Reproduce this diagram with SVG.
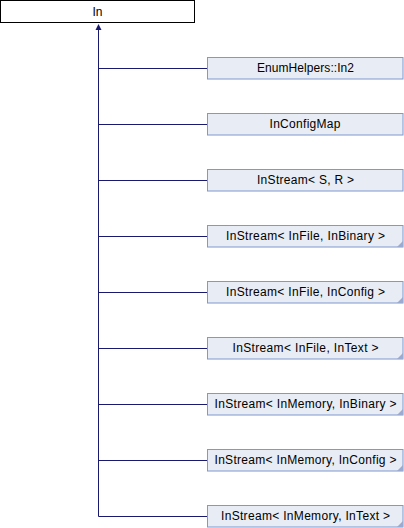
<svg xmlns="http://www.w3.org/2000/svg" width="404" height="528" viewBox="0 0 404 528">
<style>
.box{fill:#e8ecf4;stroke:#7f98cf;stroke-width:1}
.root{fill:#ffffff;stroke:#000000;stroke-width:1}
.lbl{font-family:"Liberation Sans",Arial,sans-serif;font-size:12px;fill:#000000;text-anchor:middle}
.edge{stroke:#191970;stroke-width:1;fill:none}
.fold{fill:#9aaad0}
</style>
<rect x="0" y="0" width="404" height="528" fill="#ffffff"/>
<g id="connectors">
<line class="edge" x1="98.5" y1="29" x2="98.5" y2="516.5"/>
<polygon points="98.5,24 95.5,30 101.5,30" fill="#191970"/>
<line class="edge" x1="98.5" y1="68.5" x2="207.5" y2="68.5"/>
<line class="edge" x1="98.5" y1="124.5" x2="207.5" y2="124.5"/>
<line class="edge" x1="98.5" y1="180.5" x2="207.5" y2="180.5"/>
<line class="edge" x1="98.5" y1="236.5" x2="207.5" y2="236.5"/>
<line class="edge" x1="98.5" y1="292.5" x2="207.5" y2="292.5"/>
<line class="edge" x1="98.5" y1="348.5" x2="207.5" y2="348.5"/>
<line class="edge" x1="98.5" y1="404.5" x2="207.5" y2="404.5"/>
<line class="edge" x1="98.5" y1="460.5" x2="207.5" y2="460.5"/>
<line class="edge" x1="98.5" y1="516.5" x2="207.5" y2="516.5"/>
</g>
<g id="node-In">
<rect class="root" x="0.5" y="0.5" width="194" height="22"/>
<text class="lbl" x="97.5" y="16">In</text>
</g>
<g id="node-EnumHelpers-In2">
<rect class="box" x="207.5" y="57.5" width="195.5" height="21.5"/>
<text class="lbl" x="305.5" y="72" textLength="97" lengthAdjust="spacing">EnumHelpers::In2</text>
</g>
<g id="node-InConfigMap">
<rect class="box" x="207.5" y="113.5" width="195.5" height="21.5"/>
<text class="lbl" x="305" y="128" textLength="71" lengthAdjust="spacing">InConfigMap</text>
</g>
<g id="node-InStream-S-R">
<rect class="box" x="207.5" y="169.5" width="195.5" height="21.5"/>
<text class="lbl" x="305.5" y="184" textLength="97" lengthAdjust="spacing">InStream&lt; S, R &gt;</text>
</g>
<g id="node-InStream-InFile-InBinary">
<rect class="box" x="207.5" y="225.5" width="195.5" height="21.5"/>
<polygon class="fold" points="403,241 403,247 397,247"/>
<text class="lbl" x="305.5" y="240" textLength="159" lengthAdjust="spacing">InStream&lt; InFile, InBinary &gt;</text>
</g>
<g id="node-InStream-InFile-InConfig">
<rect class="box" x="207.5" y="281.5" width="195.5" height="21.5"/>
<polygon class="fold" points="403,297 403,303 397,303"/>
<text class="lbl" x="305.5" y="296" textLength="159" lengthAdjust="spacing">InStream&lt; InFile, InConfig &gt;</text>
</g>
<g id="node-InStream-InFile-InText">
<rect class="box" x="207.5" y="337.5" width="195.5" height="21.5"/>
<polygon class="fold" points="403,353 403,359 397,359"/>
<text class="lbl" x="305.5" y="352" textLength="146" lengthAdjust="spacing">InStream&lt; InFile, InText &gt;</text>
</g>
<g id="node-InStream-InMemory-InBinary">
<rect class="box" x="207.5" y="393.5" width="195.5" height="21.5"/>
<polygon class="fold" points="403,409 403,415 397,415"/>
<text class="lbl" x="305.5" y="408" textLength="182" lengthAdjust="spacing">InStream&lt; InMemory, InBinary &gt;</text>
</g>
<g id="node-InStream-InMemory-InConfig">
<rect class="box" x="207.5" y="449.5" width="195.5" height="21.5"/>
<polygon class="fold" points="403,465 403,471 397,471"/>
<text class="lbl" x="305.5" y="464" textLength="182" lengthAdjust="spacing">InStream&lt; InMemory, InConfig &gt;</text>
</g>
<g id="node-InStream-InMemory-InText">
<rect class="box" x="207.5" y="505.5" width="195.5" height="21.5"/>
<polygon class="fold" points="403,521 403,527 397,527"/>
<text class="lbl" x="305.5" y="520" textLength="169" lengthAdjust="spacing">InStream&lt; InMemory, InText &gt;</text>
</g>
</svg>
